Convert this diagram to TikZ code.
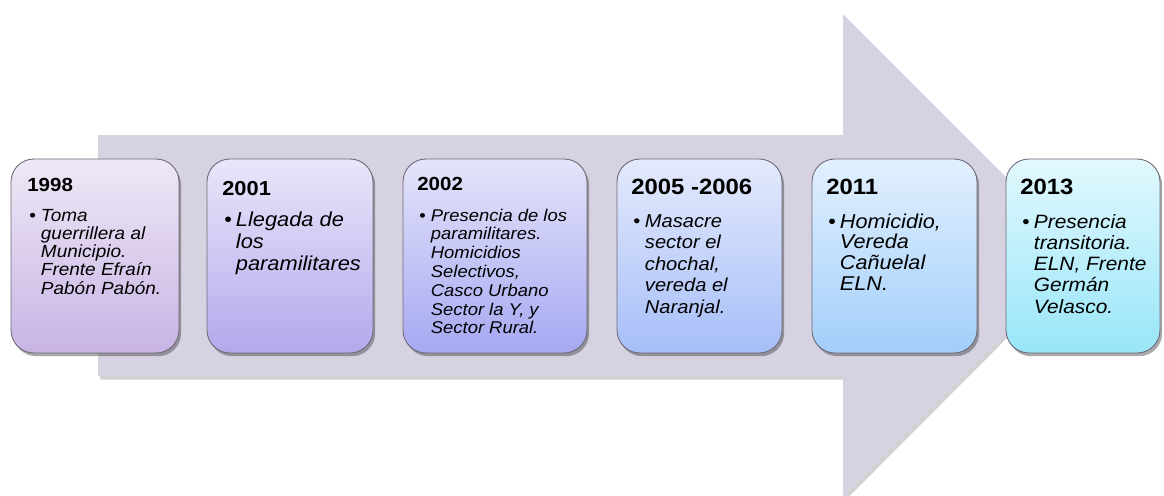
\documentclass[tikz,border=0pt]{standalone}
\usepackage{fontspec}
\setmainfont{Liberation Sans}[FakeStretch=1.08]
\usetikzlibrary{shadows}

\definecolor{flecha}{HTML}{D6D2E2}
\definecolor{bordecaja}{HTML}{6E6A78}
\definecolor{arriba1}{HTML}{EEE8F6}\definecolor{abajo1}{HTML}{C8B4E4}
\definecolor{arriba2}{HTML}{EAE6FA}\definecolor{abajo2}{HTML}{B4A8EC}
\definecolor{arriba3}{HTML}{E4E4FA}\definecolor{abajo3}{HTML}{A6A8F2}
\definecolor{arriba4}{HTML}{E4EAFC}\definecolor{abajo4}{HTML}{A6BEF8}
\definecolor{arriba5}{HTML}{E2F0FE}\definecolor{abajo5}{HTML}{A2CEFA}
\definecolor{arriba6}{HTML}{E2F8FE}\definecolor{abajo6}{HTML}{98E6F8}

\newlength{\bulw}
\setlength{\bulw}{6.6pt}
% bullet text: size, line skip, lines
\newcommand{\vineta}[3]{{\fontsize{#1}{#2}\selectfont\makebox[\bulw][l]{\textbullet}\itshape\begin{tabular}[t]{@{}l@{}}#3\end{tabular}}}

\begin{document}
\begin{tikzpicture}[x=0.02cm, y=-0.02cm,
                        hito/.style={rectangle, rounded corners=13pt, draw=bordecaja, line width=0.5pt,
                            minimum height=3.88cm,
                            drop shadow={shadow xshift=1.2pt, shadow yshift=-1.8pt, opacity=0.45, fill=black!75}},
                        anio/.style={anchor=base west, inner sep=0pt, font=\bfseries},
                        texto/.style={anchor=base west, inner sep=0pt}]
                            \useasboundingbox (0,0) rectangle (1164,495);
                            % Arrow:
                            \path[fill=flecha, drop shadow={shadow xshift=1.2pt, shadow yshift=-2pt, opacity=0.3, fill=black!60}]
                                (98,135) -- (843,135) -- (843,14) -- (1084,255) -- (843,497) -- (843,376) -- (98,376) -- cycle;
                            % Boxes:
                            \node[hito, top color=arriba1, bottom color=abajo1, minimum width=3.36cm] (b1998) at (95,256) {};
                            \node[hito, top color=arriba2, bottom color=abajo2, minimum width=3.32cm] (b2001) at (290,256) {};
                            \node[hito, top color=arriba3, bottom color=abajo3, minimum width=3.68cm] (b2002) at (495,256) {};
                            \node[hito, top color=arriba4, bottom color=abajo4, minimum width=3.30cm] (b2005) at (699.5,256) {};
                            \node[hito, top color=arriba5, bottom color=abajo5, minimum width=3.30cm] (b2011) at (894.5,256) {};
                            \node[hito, top color=arriba6, bottom color=abajo6, minimum width=3.08cm] (b2013) at (1083,256) {};
                            % Years:
                            \node[anio, font=\bfseries\fontsize{10.8}{12}\selectfont] (t1998) at (27,191) {1998};
                            \node[anio, font=\bfseries\fontsize{11.5}{13}\selectfont] (t2001) at (222,195) {2001};
                            \node[anio, font=\bfseries\fontsize{10.8}{12}\selectfont] (t2002) at (417,190) {2002};
                            \node[anio, font=\bfseries\fontsize{12.6}{14}\selectfont] (t2005) at (631,194) {2005 -2006};
                            \node[anio, font=\bfseries\fontsize{12.6}{14}\selectfont] (t2011) at (826,194) {2011};
                            \node[anio, font=\bfseries\fontsize{12.6}{14}\selectfont] (t2013) at (1020,194) {2013};
                            % Events:
                            \node[texto] (e1998) at (29,221) {\vineta{10}{10.4}{Toma\\guerrillera al\\Municipio.\\Frente Efraín\\Pabón Pabón.}};
                            \node[texto] (e2001) at (224,226) {\vineta{11.5}{12.8}{Llegada de\\los\\paramilitares}};
                            \node[texto] (e2002) at (419,221) {\vineta{9.7}{10.7}{Presencia de los\\paramilitares.\\Homicidios\\Selectivos,\\Casco Urbano\\Sector la Y, y\\Sector Rural.}};
                            \node[texto] (e2005) at (633,227) {\vineta{10.6}{12.3}{Masacre\\sector el\\chochal,\\vereda el\\Naranjal.}};
                            \node[texto] (e2011) at (828,228) {\vineta{11.4}{11.8}{Homicidio,\\Vereda\\Cañuelal\\ELN.}};
                            \node[texto] (e2013) at (1022,228) {\vineta{11}{12.1}{Presencia\\transitoria.\\ELN, Frente\\Germán\\Velasco.}};
                        \end{tikzpicture}
\end{document}
